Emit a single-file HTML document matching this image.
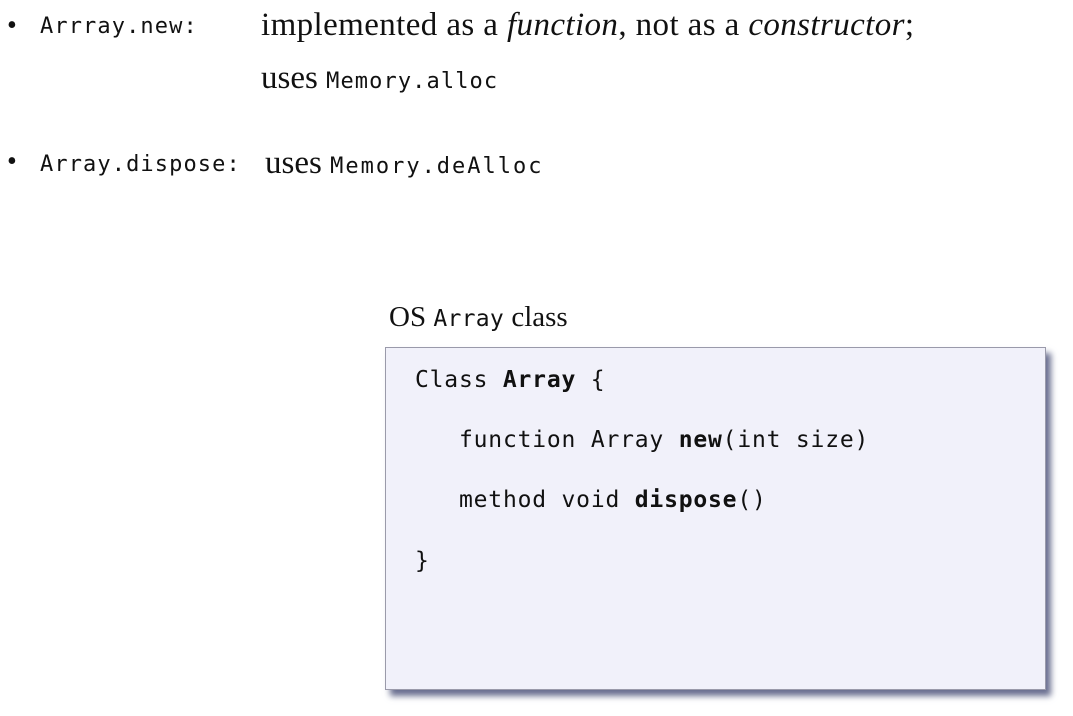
<!DOCTYPE html>
<html><head><style>
body{margin:0;width:1073px;height:716px;background:#fff;position:relative;overflow:hidden;font-family:"Liberation Serif",serif;color:#111}
.a{position:absolute;white-space:nowrap;line-height:1}
.m{font-family:"DejaVu Sans Mono",monospace;font-size:22px;letter-spacing:1.1px}
.s{font-size:33px}
.box{position:absolute;left:385px;top:347px;width:659px;height:341px;background:#f1f1fa;border:1px solid #9a9aaa;box-shadow:5px 6px 6px #6a6f90}
.c{font-family:"DejaVu Sans Mono",monospace;font-size:23px;letter-spacing:0.8px;color:#111}
b{font-weight:bold}
</style></head><body>
<div class="a" style="left:7px;top:12px;font-size:28px">•</div>
<div class="a m" style="left:40px;top:16px">Arrray.new:</div>
<div class="a s" style="left:261px;top:9px;letter-spacing:0.4px">implemented as a <i>function</i>, not as a <i>constructor</i>;</div>
<div class="a" style="left:261px;top:62px"><span class="s">uses </span><span class="m">Memory.alloc</span></div>
<div class="a" style="left:7px;top:148px;font-size:28px">•</div>
<div class="a m" style="left:40px;top:154px">Array.dispose:</div>
<div class="a" style="left:265px;top:147px"><span class="s">uses </span><span class="m" style="letter-spacing:2px">Memory.deAlloc</span></div>
<div class="a" style="left:389px;top:303px;font-size:29px">OS <span class="m" style="font-size:23px;letter-spacing:0.3px">Array</span> class</div>
<div class="box"></div>
<div class="a c" style="left:415px;top:369px">Class <b>Array</b> {</div>
<div class="a c" style="left:459px;top:429px">function Array <b>new</b>(int size)</div>
<div class="a c" style="left:459px;top:489px">method void <b>dispose</b>()</div>
<div class="a c" style="left:415px;top:550px">}</div>
</body></html>
